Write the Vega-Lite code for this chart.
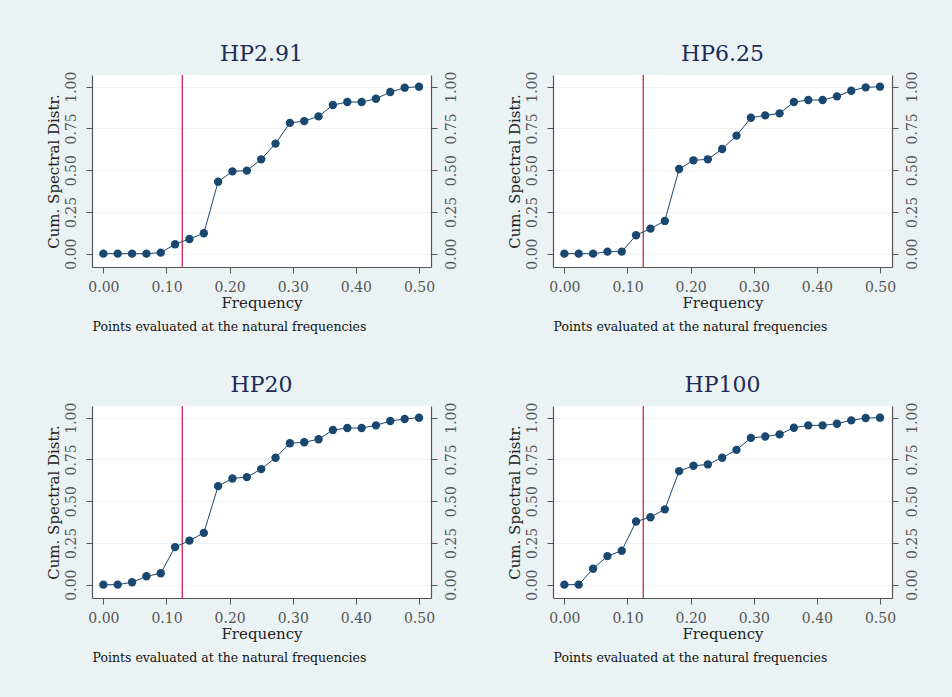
{
  "$schema": "https://vega.github.io/schema/vega-lite/v6.json",
  "background": "#eaf2f3",
  "padding": {"left": 46, "top": 43, "right": 40, "bottom": 45},
  "datasets": {
    "csd": [
      {"s":"HP2.91","f":0,"v":0},{"s":"HP2.91","f":0.0227,"v":0},{"s":"HP2.91","f":0.0455,"v":0},{"s":"HP2.91","f":0.0682,"v":0},{"s":"HP2.91","f":0.0909,"v":0.006},{"s":"HP2.91","f":0.1136,"v":0.056},{"s":"HP2.91","f":0.1364,"v":0.088},{"s":"HP2.91","f":0.1591,"v":0.122},{"s":"HP2.91","f":0.1818,"v":0.431},{"s":"HP2.91","f":0.2045,"v":0.493},{"s":"HP2.91","f":0.2273,"v":0.497},{"s":"HP2.91","f":0.25,"v":0.565},{"s":"HP2.91","f":0.2727,"v":0.659},{"s":"HP2.91","f":0.2955,"v":0.783},{"s":"HP2.91","f":0.3182,"v":0.794},{"s":"HP2.91","f":0.3409,"v":0.822},{"s":"HP2.91","f":0.3636,"v":0.89},{"s":"HP2.91","f":0.3864,"v":0.908},{"s":"HP2.91","f":0.4091,"v":0.908},{"s":"HP2.91","f":0.4318,"v":0.928},{"s":"HP2.91","f":0.4545,"v":0.968},{"s":"HP2.91","f":0.4773,"v":0.994},{"s":"HP2.91","f":0.5,"v":1.0},
      {"s":"HP6.25","f":0,"v":0},{"s":"HP6.25","f":0.0227,"v":0},{"s":"HP6.25","f":0.0455,"v":0},{"s":"HP6.25","f":0.0682,"v":0.012},{"s":"HP6.25","f":0.0909,"v":0.012},{"s":"HP6.25","f":0.1136,"v":0.11},{"s":"HP6.25","f":0.1364,"v":0.15},{"s":"HP6.25","f":0.1591,"v":0.196},{"s":"HP6.25","f":0.1818,"v":0.507},{"s":"HP6.25","f":0.2045,"v":0.559},{"s":"HP6.25","f":0.2273,"v":0.565},{"s":"HP6.25","f":0.25,"v":0.627},{"s":"HP6.25","f":0.2727,"v":0.707},{"s":"HP6.25","f":0.2955,"v":0.814},{"s":"HP6.25","f":0.3182,"v":0.828},{"s":"HP6.25","f":0.3409,"v":0.84},{"s":"HP6.25","f":0.3636,"v":0.908},{"s":"HP6.25","f":0.3864,"v":0.92},{"s":"HP6.25","f":0.4091,"v":0.92},{"s":"HP6.25","f":0.4318,"v":0.942},{"s":"HP6.25","f":0.4545,"v":0.976},{"s":"HP6.25","f":0.4773,"v":0.996},{"s":"HP6.25","f":0.5,"v":1.0},
      {"s":"HP20","f":0,"v":0},{"s":"HP20","f":0.0227,"v":0},{"s":"HP20","f":0.0455,"v":0.014},{"s":"HP20","f":0.0682,"v":0.05},{"s":"HP20","f":0.0909,"v":0.068},{"s":"HP20","f":0.1136,"v":0.225},{"s":"HP20","f":0.1364,"v":0.264},{"s":"HP20","f":0.1591,"v":0.31},{"s":"HP20","f":0.1818,"v":0.59},{"s":"HP20","f":0.2045,"v":0.636},{"s":"HP20","f":0.2273,"v":0.644},{"s":"HP20","f":0.25,"v":0.692},{"s":"HP20","f":0.2727,"v":0.76},{"s":"HP20","f":0.2955,"v":0.847},{"s":"HP20","f":0.3182,"v":0.853},{"s":"HP20","f":0.3409,"v":0.871},{"s":"HP20","f":0.3636,"v":0.926},{"s":"HP20","f":0.3864,"v":0.938},{"s":"HP20","f":0.4091,"v":0.938},{"s":"HP20","f":0.4318,"v":0.954},{"s":"HP20","f":0.4545,"v":0.98},{"s":"HP20","f":0.4773,"v":0.992},{"s":"HP20","f":0.5,"v":1.0},
      {"s":"HP100","f":0,"v":0},{"s":"HP100","f":0.0227,"v":0},{"s":"HP100","f":0.0455,"v":0.095},{"s":"HP100","f":0.0682,"v":0.171},{"s":"HP100","f":0.0909,"v":0.203},{"s":"HP100","f":0.1136,"v":0.378},{"s":"HP100","f":0.1364,"v":0.404},{"s":"HP100","f":0.1591,"v":0.451},{"s":"HP100","f":0.1818,"v":0.68},{"s":"HP100","f":0.2045,"v":0.712},{"s":"HP100","f":0.2273,"v":0.72},{"s":"HP100","f":0.25,"v":0.76},{"s":"HP100","f":0.2727,"v":0.807},{"s":"HP100","f":0.2955,"v":0.879},{"s":"HP100","f":0.3182,"v":0.887},{"s":"HP100","f":0.3409,"v":0.9},{"s":"HP100","f":0.3636,"v":0.94},{"s":"HP100","f":0.3864,"v":0.954},{"s":"HP100","f":0.4091,"v":0.954},{"s":"HP100","f":0.4318,"v":0.964},{"s":"HP100","f":0.4545,"v":0.984},{"s":"HP100","f":0.4773,"v":0.998},{"s":"HP100","f":0.5,"v":1.0}
    ],
    "cut": [{"c": 0.125}]
  },
  "columns": 2,
  "spacing": {"row": 139, "column": 122},
  "bounds": "flush",
  "concat": [
    {
      "title": "HP2.91", "width": 339, "height": 192,
      "layer": [
        {"data": {"name": "cut"}, "mark": {"type": "rule", "color": "#d32550", "strokeWidth": 1.3},
         "encoding": {"x": {"field": "c", "type": "quantitative", "axis": null}}},
        {"data": {"name": "csd"}, "transform": [{"filter": "datum.s === 'HP2.91'"}],
         "mark": {"type": "line", "color": "#1a476f", "strokeWidth": 1},
         "encoding": {
           "x": {"field": "f", "type": "quantitative", "scale": {"domain": [-0.018, 0.519], "nice": false, "zero": false},
                 "axis": {"title": "Frequency", "orient": "bottom", "values": [0, 0.1, 0.2, 0.3, 0.4, 0.5], "format": ".2f", "grid": false, "labelPadding": 7, "titlePadding": 1}},
           "y": {"field": "v", "type": "quantitative", "scale": {"domain": [-0.08, 1.07], "nice": false, "zero": false},
                 "axis": {"title": "Cum. Spectral Distr.", "orient": "left", "values": [0, 0.25, 0.5, 0.75, 1], "format": ".2f", "grid": true, "labelAngle": -90, "labelAlign": "center", "labelBaseline": "bottom", "labelPadding": 8, "titlePadding": 3}}}},
        {"data": {"name": "csd"}, "transform": [{"filter": "datum.s === 'HP2.91'"}],
         "mark": {"type": "point", "filled": true, "color": "#1a476f", "size": 70, "opacity": 1},
         "encoding": {
           "x": {"field": "f", "type": "quantitative",
                 "axis": {"title": "Points evaluated at the natural frequencies", "orient": "bottom", "labels": false, "ticks": false, "domain": false, "grid": false, "titleAnchor": "start", "titleAlign": "left", "titleFontSize": 12.5, "titlePadding": 53, "titleColor": "#111"}},
           "y": {"field": "v", "type": "quantitative",
                 "axis": {"title": null, "orient": "right", "values": [0, 0.25, 0.5, 0.75, 1], "format": ".2f", "grid": false, "labelAngle": -90, "labelAlign": "center", "labelBaseline": "top", "labelPadding": 7}}}}
      ],
      "resolve": {"axis": {"x": "independent", "y": "independent"}}
    },
    {
      "title": "HP6.25", "width": 339, "height": 192,
      "layer": [
        {"data": {"name": "cut"}, "mark": {"type": "rule", "color": "#d32550", "strokeWidth": 1.3},
         "encoding": {"x": {"field": "c", "type": "quantitative", "axis": null}}},
        {"data": {"name": "csd"}, "transform": [{"filter": "datum.s === 'HP6.25'"}],
         "mark": {"type": "line", "color": "#1a476f", "strokeWidth": 1},
         "encoding": {
           "x": {"field": "f", "type": "quantitative", "scale": {"domain": [-0.018, 0.519], "nice": false, "zero": false},
                 "axis": {"title": "Frequency", "orient": "bottom", "values": [0, 0.1, 0.2, 0.3, 0.4, 0.5], "format": ".2f", "grid": false, "labelPadding": 7, "titlePadding": 1}},
           "y": {"field": "v", "type": "quantitative", "scale": {"domain": [-0.08, 1.07], "nice": false, "zero": false},
                 "axis": {"title": "Cum. Spectral Distr.", "orient": "left", "values": [0, 0.25, 0.5, 0.75, 1], "format": ".2f", "grid": true, "labelAngle": -90, "labelAlign": "center", "labelBaseline": "bottom", "labelPadding": 8, "titlePadding": 3}}}},
        {"data": {"name": "csd"}, "transform": [{"filter": "datum.s === 'HP6.25'"}],
         "mark": {"type": "point", "filled": true, "color": "#1a476f", "size": 70, "opacity": 1},
         "encoding": {
           "x": {"field": "f", "type": "quantitative",
                 "axis": {"title": "Points evaluated at the natural frequencies", "orient": "bottom", "labels": false, "ticks": false, "domain": false, "grid": false, "titleAnchor": "start", "titleAlign": "left", "titleFontSize": 12.5, "titlePadding": 53, "titleColor": "#111"}},
           "y": {"field": "v", "type": "quantitative",
                 "axis": {"title": null, "orient": "right", "values": [0, 0.25, 0.5, 0.75, 1], "format": ".2f", "grid": false, "labelAngle": -90, "labelAlign": "center", "labelBaseline": "top", "labelPadding": 7}}}}
      ],
      "resolve": {"axis": {"x": "independent", "y": "independent"}}
    },
    {
      "title": "HP20", "width": 339, "height": 192,
      "layer": [
        {"data": {"name": "cut"}, "mark": {"type": "rule", "color": "#d32550", "strokeWidth": 1.3},
         "encoding": {"x": {"field": "c", "type": "quantitative", "axis": null}}},
        {"data": {"name": "csd"}, "transform": [{"filter": "datum.s === 'HP20'"}],
         "mark": {"type": "line", "color": "#1a476f", "strokeWidth": 1},
         "encoding": {
           "x": {"field": "f", "type": "quantitative", "scale": {"domain": [-0.018, 0.519], "nice": false, "zero": false},
                 "axis": {"title": "Frequency", "orient": "bottom", "values": [0, 0.1, 0.2, 0.3, 0.4, 0.5], "format": ".2f", "grid": false, "labelPadding": 7, "titlePadding": 1}},
           "y": {"field": "v", "type": "quantitative", "scale": {"domain": [-0.08, 1.07], "nice": false, "zero": false},
                 "axis": {"title": "Cum. Spectral Distr.", "orient": "left", "values": [0, 0.25, 0.5, 0.75, 1], "format": ".2f", "grid": true, "labelAngle": -90, "labelAlign": "center", "labelBaseline": "bottom", "labelPadding": 8, "titlePadding": 3}}}},
        {"data": {"name": "csd"}, "transform": [{"filter": "datum.s === 'HP20'"}],
         "mark": {"type": "point", "filled": true, "color": "#1a476f", "size": 70, "opacity": 1},
         "encoding": {
           "x": {"field": "f", "type": "quantitative",
                 "axis": {"title": "Points evaluated at the natural frequencies", "orient": "bottom", "labels": false, "ticks": false, "domain": false, "grid": false, "titleAnchor": "start", "titleAlign": "left", "titleFontSize": 12.5, "titlePadding": 53, "titleColor": "#111"}},
           "y": {"field": "v", "type": "quantitative",
                 "axis": {"title": null, "orient": "right", "values": [0, 0.25, 0.5, 0.75, 1], "format": ".2f", "grid": false, "labelAngle": -90, "labelAlign": "center", "labelBaseline": "top", "labelPadding": 7}}}}
      ],
      "resolve": {"axis": {"x": "independent", "y": "independent"}}
    },
    {
      "title": "HP100", "width": 339, "height": 192,
      "layer": [
        {"data": {"name": "cut"}, "mark": {"type": "rule", "color": "#d32550", "strokeWidth": 1.3},
         "encoding": {"x": {"field": "c", "type": "quantitative", "axis": null}}},
        {"data": {"name": "csd"}, "transform": [{"filter": "datum.s === 'HP100'"}],
         "mark": {"type": "line", "color": "#1a476f", "strokeWidth": 1},
         "encoding": {
           "x": {"field": "f", "type": "quantitative", "scale": {"domain": [-0.018, 0.519], "nice": false, "zero": false},
                 "axis": {"title": "Frequency", "orient": "bottom", "values": [0, 0.1, 0.2, 0.3, 0.4, 0.5], "format": ".2f", "grid": false, "labelPadding": 7, "titlePadding": 1}},
           "y": {"field": "v", "type": "quantitative", "scale": {"domain": [-0.08, 1.07], "nice": false, "zero": false},
                 "axis": {"title": "Cum. Spectral Distr.", "orient": "left", "values": [0, 0.25, 0.5, 0.75, 1], "format": ".2f", "grid": true, "labelAngle": -90, "labelAlign": "center", "labelBaseline": "bottom", "labelPadding": 8, "titlePadding": 3}}}},
        {"data": {"name": "csd"}, "transform": [{"filter": "datum.s === 'HP100'"}],
         "mark": {"type": "point", "filled": true, "color": "#1a476f", "size": 70, "opacity": 1},
         "encoding": {
           "x": {"field": "f", "type": "quantitative",
                 "axis": {"title": "Points evaluated at the natural frequencies", "orient": "bottom", "labels": false, "ticks": false, "domain": false, "grid": false, "titleAnchor": "start", "titleAlign": "left", "titleFontSize": 12.5, "titlePadding": 53, "titleColor": "#111"}},
           "y": {"field": "v", "type": "quantitative",
                 "axis": {"title": null, "orient": "right", "values": [0, 0.25, 0.5, 0.75, 1], "format": ".2f", "grid": false, "labelAngle": -90, "labelAlign": "center", "labelBaseline": "top", "labelPadding": 7}}}}
      ],
      "resolve": {"axis": {"x": "independent", "y": "independent"}}
    }
  ],
  "config": {
    "font": "DejaVu Serif",
    "view": {"stroke": null, "fill": "white"},
    "axis": {"labelFont": "DejaVu Serif", "titleFont": "DejaVu Serif", "labelFontSize": 14, "titleFontSize": 15, "titleFontWeight": "normal", "labelColor": "#555", "titleColor": "#222", "domainColor": "#555", "tickColor": "#555", "tickSize": 6, "gridColor": "#eaf2f3", "gridOpacity": 1, "domainWidth": 1.2},
    "title": {"font": "DejaVu Serif", "fontSize": 22, "fontWeight": "normal", "color": "#1c2b5a", "offset": 5, "frame": "group", "anchor": "middle"}
  }
}
